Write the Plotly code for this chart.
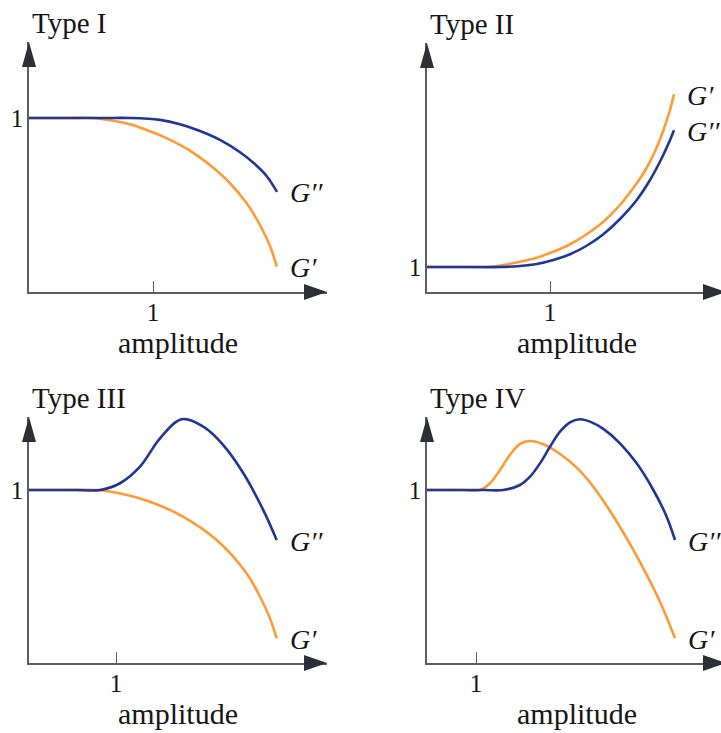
import plotly.graph_objects as go

W, H = 721, 733

# ---------------------------------------------------------------------------
# Curve data: each panel is in its own units, with the reference level and the
# "1" amplitude both at 1.  G' = storage modulus, G'' = loss modulus.
# ---------------------------------------------------------------------------
# Type I: strain thinning
t1_gp_x = [0, 0.17, 0.34, 0.516, 0.680, 0.815, 0.949, 1.083, 1.218, 1.352,
           1.486, 1.621, 1.756, 1.863, 1.944, 1.998]
t1_gp_y = [1, 1, 1, 1, 0.984, 0.964, 0.931, 0.893, 0.845, 0.787,
           0.714, 0.625, 0.510, 0.385, 0.264, 0.146]
t1_gpp_x = [0, 0.20, 0.41, 0.61, 0.815, 1.056, 1.218, 1.379, 1.540, 1.702,
            1.823, 1.919, 2.0]
t1_gpp_y = [1, 1, 1, 1, 1, 0.989, 0.964, 0.925, 0.874, 0.803,
            0.734, 0.664, 0.575]

# Type II: strain hardening
t2_gp_x = [0, 0.17, 0.34, 0.512, 0.620, 0.756, 0.892, 1.027, 1.163, 1.298,
           1.434, 1.569, 1.705, 1.772, 1.840, 1.908, 1.976, 2.008]
t2_gp_y = [1, 1, 1, 1, 1.08, 1.21, 1.37, 1.61, 1.91, 2.31,
           2.81, 3.48, 4.35, 4.85, 5.48, 6.28, 7.29, 7.91]
t2_gpp_x = [0, 0.20, 0.40, 0.60, 0.756, 0.892, 1.027, 1.163, 1.298, 1.434,
            1.569, 1.705, 1.813, 1.908, 1.976, 2.008]
t2_gpp_y = [1, 1, 1, 1, 1.04, 1.12, 1.28, 1.51, 1.85, 2.31,
            2.92, 3.68, 4.48, 5.35, 6.08, 6.47]

# Type III: weak strain overshoot (G'' only)
t3_gp_x = [0, 0.26, 0.52, 0.778, 1.008, 1.391, 1.774, 2.157, 2.502, 2.655,
           2.770, 2.847]
t3_gp_y = [1, 1, 1, 1, 0.984, 0.932, 0.845, 0.711, 0.518, 0.383,
           0.258, 0.142]
t3_gpp_x = [0, 0.27, 0.54, 0.816, 1.046, 1.276, 1.506, 1.755, 2.003, 2.233,
            2.464, 2.693, 2.847]
t3_gpp_y = [1, 1, 1, 1, 1.039, 1.135, 1.299, 1.409, 1.366, 1.260,
            1.097, 0.884, 0.711]

# Type IV: strong strain overshoot (G' and G'')
t4_gp_x = [0, 0.36, 0.72, 1.082, 1.286, 1.490, 1.694, 1.898, 2.102, 2.374,
           2.714, 3.055, 3.394, 3.735, 4.076, 4.415, 4.755, 5.061]
t4_gp_y = [1, 1, 1, 1, 1.039, 1.116, 1.204, 1.266, 1.283, 1.264,
           1.208, 1.129, 1.019, 0.879, 0.721, 0.547, 0.354, 0.143]
t4_gpp_x = [0, 0.39, 0.78, 1.17, 1.558, 1.898, 2.102, 2.306, 2.510, 2.714,
            2.918, 3.122, 3.327, 3.598, 3.939, 4.279, 4.619, 4.891, 5.061]
t4_gpp_y = [1, 1, 1, 1, 1, 1.029, 1.077, 1.154, 1.250, 1.337,
            1.391, 1.409, 1.395, 1.353, 1.270, 1.154, 1.0, 0.846, 0.711]

panel_titles = ["Type I", "Type II", "Type III", "Type IV"]
x_axis_title = "amplitude"
x_tick_labels = ["1"]
y_tick_labels = ["1"]
curve_names = ["G′", "G′′"]

series = [
    (t1_gp_x, t1_gp_y, t1_gpp_x, t1_gpp_y),
    (t2_gp_x, t2_gp_y, t2_gpp_x, t2_gpp_y),
    (t3_gp_x, t3_gp_y, t3_gpp_x, t3_gpp_y),
    (t4_gp_x, t4_gp_y, t4_gpp_x, t4_gpp_y),
]

# ---------------------------------------------------------------------------
# Panel geometry in pixels: origin, arrow tips, and where value 1 sits
# ---------------------------------------------------------------------------
geom = [
    dict(ox=29, oy=292, xtip=327, ytip=42, x1=153, y1=118),
    dict(ox=427, oy=292, xtip=726, ytip=43, x1=550, y1=267),
    dict(ox=29, oy=663, xtip=327, ytip=417, x1=116, y1=490),
    dict(ox=427, oy=663, xtip=726, ytip=417, x1=476, y1=490),
]

ORANGE = "#ff9a35"
BLUE = "#1f3696"
AXIS = "#5b5d62"
HEAD = "#2c2f36"
INK = "#161616"
SERIF = "Liberation Serif, Times New Roman, serif"


def px_x(p):
    return p / W


def px_y(p):
    return 1 - p / H


fig = go.Figure()
annotations = []
shapes = []

for i, (g, (gpx, gpy, gppx, gppy)) in enumerate(zip(geom, series)):
    n = "" if i == 0 else str(i + 1)
    xa, ya = "x" + n, "y" + n
    right_px = min(g["xtip"], W)
    x_range = [0, (right_px - g["ox"]) / (g["x1"] - g["ox"])]
    y_range = [0, (g["oy"] - g["ytip"]) / (g["oy"] - g["y1"])]

    fig.add_trace(go.Scatter(x=gpx, y=gpy, mode="lines", xaxis=xa, yaxis=ya,
                             line=dict(color=ORANGE, width=2.6,
                                       shape="spline", smoothing=1.0),
                             showlegend=False, hoverinfo="skip"))
    fig.add_trace(go.Scatter(x=gppx, y=gppy, mode="lines", xaxis=xa, yaxis=ya,
                             line=dict(color=BLUE, width=2.6,
                                       shape="spline", smoothing=1.0),
                             showlegend=False, hoverinfo="skip"))

    fig.layout["xaxis" + n] = dict(
        domain=[px_x(g["ox"]), px_x(right_px)], range=x_range,
        anchor=ya, showgrid=False, zeroline=False,
        showline=True, linecolor=AXIS, linewidth=1.5,
        tickmode="array", tickvals=[1], ticktext=x_tick_labels,
        ticks="inside", ticklen=11, tickwidth=1.4, tickcolor=AXIS,
        ticklabelstandoff=-3,
        tickfont=dict(family=SERIF, size=25, color=INK),
        fixedrange=True,
    )
    fig.layout["yaxis" + n] = dict(
        domain=[px_y(g["oy"]), px_y(g["ytip"])], range=y_range,
        anchor=xa, showgrid=False, zeroline=False,
        showline=True, linecolor=AXIS, linewidth=1.5,
        tickmode="array", tickvals=[1], ticktext=y_tick_labels,
        ticks="", ticklabelstandoff=-1,
        tickfont=dict(family=SERIF, size=25, color=INK),
        fixedrange=True,
    )

    # arrow heads on both axes
    shapes.append(dict(type="path", xref="paper", yref="paper",
                       xsizemode="pixel", ysizemode="pixel",
                       xanchor=px_x(g["xtip"]), yanchor=px_y(g["oy"]),
                       path="M-23,-8 L0,0 L-23,8 Z",
                       fillcolor=HEAD, line=dict(width=0)))
    shapes.append(dict(type="path", xref="paper", yref="paper",
                       xsizemode="pixel", ysizemode="pixel",
                       xanchor=px_x(g["ox"]), yanchor=px_y(g["ytip"]),
                       path="M-7,-25 L0,0 L7,-25 Z",
                       fillcolor=HEAD, line=dict(width=0)))

    # panel title
    annotations.append(dict(text=panel_titles[i], xref="paper", yref="paper",
                            x=px_x(g["ox"] + 1), y=px_y(g["ytip"] - 19),
                            xanchor="left", yanchor="middle", showarrow=False,
                            font=dict(family=SERIF, size=29, color=INK)))

    # x-axis caption, centred under the arrow
    annotations.append(dict(text=x_axis_title, xref="paper", yref="paper",
                            x=px_x((g["ox"] + g["xtip"]) / 2),
                            y=px_y(g["oy"] + 50),
                            xanchor="center", yanchor="middle", showarrow=False,
                            font=dict(family=SERIF, size=30, color=INK)))

    # curve labels at the curve ends
    for cx, cy, name in ((gpx, gpy, curve_names[0]), (gppx, gppy, curve_names[1])):
        annotations.append(dict(text="<i>" + name + "</i>", xref=xa, yref=ya,
                                x=cx[-1], y=cy[-1], xanchor="left",
                                yanchor="middle", xshift=11, yshift=-1,
                                showarrow=False,
                                font=dict(family=SERIF, size=28, color=INK)))

fig.update_layout(
    width=W, height=H,
    margin=dict(l=0, r=0, t=0, b=0),
    paper_bgcolor="white", plot_bgcolor="white",
    annotations=annotations, shapes=shapes,
    showlegend=False,
)

fig.write_html("out.html", config={"displayModeBar": False})
